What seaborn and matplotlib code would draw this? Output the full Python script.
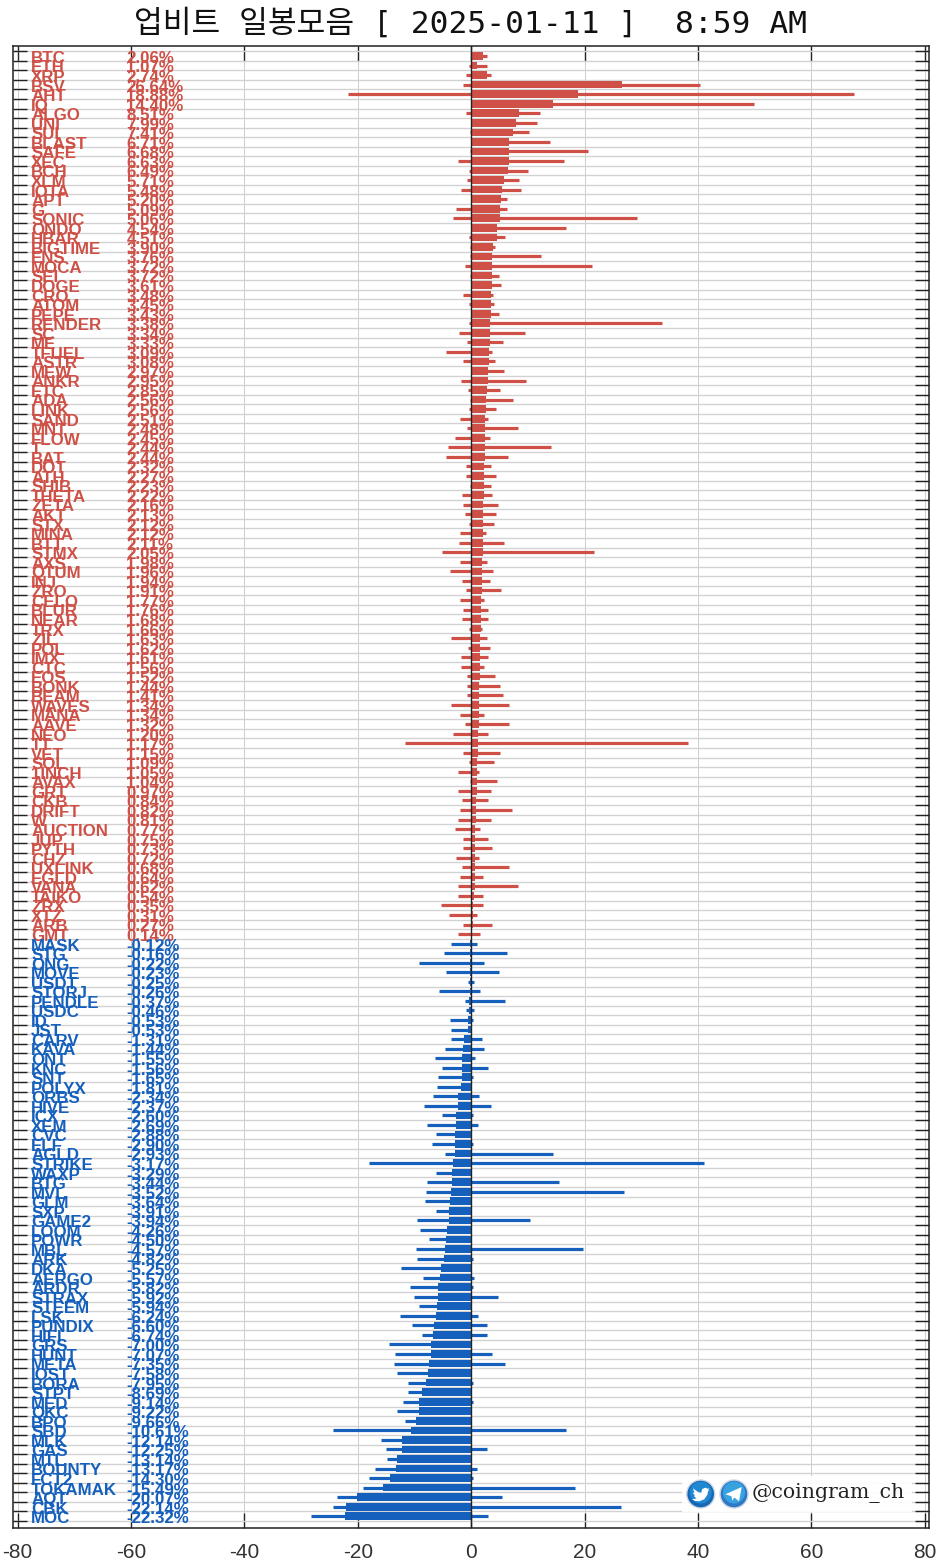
import pandas as pd
import matplotlib.pyplot as plt
from matplotlib.patches import Circle, Polygon, Rectangle
import seaborn as sns

names = ["BTC", "ETH", "XRP", "BSV", "AHT", "IQ", "ALGO", "UNI", "SUI", "BLAST", "SAFE", "XEC", "BCH", "XLM",
         "IOTA", "APT", "G", "SONIC", "ONDO", "HBAR", "BIGTIME", "ENS", "MOCA", "SEI", "DOGE", "CRO", "ATOM",
         "PEPE", "RENDER", "SC", "ME", "TFUEL", "ASTR", "MEW", "ANKR", "ETC", "ADA", "LINK", "SAND", "MNT",
         "FLOW", "T", "BAT", "DOT", "ATH", "SHIB", "THETA", "ZETA", "AKT", "STX", "MINA", "BTT", "STMX", "AXS",
         "QTUM", "INJ", "ZRO", "CELO", "BLUR", "NEAR", "TRX", "ZIL", "POL", "IMX", "CTC", "EOS", "BONK", "BEAM",
         "WAVES", "MANA", "AAVE", "NEO", "TT", "VET", "SOL", "1INCH", "AVAX", "GRT", "CKB", "DRIFT", "W",
         "AUCTION", "JUP", "PYTH", "CHZ", "UXLINK", "EGLD", "VANA", "TAIKO", "ZRX", "XTZ", "ARB", "GMT",
         "MASK", "STG", "ONG", "MOVE", "USDT", "STORJ", "PENDLE", "USDC", "ID", "JST", "CARV", "KAVA", "ONT",
         "KNC", "SNT", "POLYX", "ORBS", "HIVE", "ICX", "XEM", "CVC", "ELF", "AGLD", "STRIKE", "WAXP", "BTG",
         "MVL", "GLM", "SXP", "GAME2", "LOOM", "POWR", "MBL", "ARK", "DKA", "AERGO", "ARDR", "STRAX", "STEEM",
         "LSK", "PUNDIX", "HIFI", "GRS", "HUNT", "META", "IOST", "BORA", "STPT", "MED", "QKC", "BPO", "SBD",
         "MLK", "GAS", "MTL", "BOUNTY", "FCT2", "TOKAMAK", "AQT", "CBK", "MOC"]

change = [2.06, 1.07, 2.74, 26.64, 18.88, 14.40, 8.51, 7.99, 7.41, 6.71, 6.68, 6.63, 6.49, 5.71,
          5.48, 5.20, 5.09, 5.06, 4.54, 4.51, 3.90, 3.76, 3.72, 3.72, 3.61, 3.48, 3.45,
          3.43, 3.38, 3.34, 3.33, 3.09, 3.08, 2.97, 2.95, 2.85, 2.56, 2.56, 2.51, 2.48,
          2.45, 2.44, 2.44, 2.32, 2.27, 2.23, 2.22, 2.16, 2.13, 2.12, 2.12, 2.11, 2.05, 1.98,
          1.96, 1.94, 1.91, 1.77, 1.76, 1.68, 1.66, 1.63, 1.62, 1.61, 1.56, 1.52, 1.44, 1.41,
          1.34, 1.34, 1.32, 1.20, 1.17, 1.15, 1.09, 1.05, 1.04, 0.97, 0.84, 0.82, 0.81,
          0.77, 0.75, 0.73, 0.72, 0.68, 0.64, 0.62, 0.54, 0.35, 0.31, 0.27, 0.14,
          -0.12, -0.16, -0.22, -0.23, -0.25, -0.26, -0.37, -0.46, -0.53, -0.53, -1.31, -1.44, -1.55,
          -1.56, -1.65, -1.81, -2.34, -2.37, -2.60, -2.69, -2.88, -2.90, -2.93, -3.17, -3.29, -3.44,
          -3.52, -3.64, -3.91, -3.94, -4.26, -4.50, -4.57, -4.82, -5.25, -5.57, -5.82, -5.92, -5.94,
          -6.24, -6.60, -6.74, -7.00, -7.07, -7.35, -7.58, -7.95, -8.69, -9.14, -9.22, -9.66, -10.61,
          -12.14, -12.25, -13.14, -13.17, -14.30, -15.49, -20.07, -22.14, -22.32]

day_low = [-0.1, -0.3, -0.95, -1.5, -21.7, 0, -0.95, -0.1, -0.15, -0.1, -0.2, -2.35, -0.4, -0.7,
           -1.8, 0, -2.75, -3.2, 0, -0.4, -0.15, -0.15, -1.1, -0.15, 0, -1.5, -0.4,
           0, -0.4, -2.2, -0.7, -4.5, -1.5, 0, -1.8, -0.6, -0.15, -0.4, -2.05, -0.8,
           -2.9, -4.1, -4.35, -0.95, -0.95, -0.15, -1.65, -1.5, -1.1, -0.4, -2.05, -2.2, -5.2, -2.05,
           -3.8, -1.65, -0.95, -2.05, -1.35, -1.65, -0.4, -3.6, -0.6, -1.8, -1.8, -0.8, -0.8, -0.8,
           -3.6, -2.05, -1.1, -3.2, -11.75, -1.35, -0.4, -2.35, -0.25, -2.35, -1.65, -2.05, -2.35,
           -2.9, -1.5, -1.35, -2.75, -1.65, -2.05, -2.35, -2.35, -5.35, -3.95, -1.5, -2.35,
           -3.6, -4.8, -9.2, -4.5, -0.6, -5.75, -1.1, -0.95, -3.8, -3.6, -3.6, -4.65, -6.45,
           -5.2, -5.9, -6.05, -6.75, -8.35, -5.2, -7.85, -6.2, -6.95, -4.65, -18.05, -6.2, -7.85,
           -8.0, -8.2, -6.2, -9.6, -9.05, -7.5, -9.75, -9.6, -12.45, -8.5, -10.85, -10.15, -9.2,
           -12.6, -10.45, -8.75, -14.55, -13.5, -13.6, -13.1, -11.2, -11.2, -12.0, -13.0, -11.7, -24.4,
           -15.9, -15.1, -14.9, -17.0, -18.0, -19.1, -23.7, -24.3, -28.3]

day_high = [2.85, 2.85, 3.55, 40.3, 67.5, 49.9, 12.1, 11.6, 10.15, 13.9, 20.6, 16.3, 10.0, 8.4,
            8.75, 6.3, 6.3, 29.2, 16.7, 5.9, 4.2, 12.3, 21.4, 4.9, 5.35, 3.8, 4.0,
            4.9, 33.6, 9.45, 5.6, 3.6, 4.2, 5.75, 9.75, 5.05, 7.4, 4.35, 3.05, 8.2,
            3.3, 14.0, 6.45, 3.45, 4.35, 3.45, 3.6, 4.7, 4.35, 4.0, 2.6, 5.75, 21.65, 2.75,
            3.8, 3.3, 5.35, 2.2, 3.05, 3.05, 1.9, 2.75, 3.3, 2.9, 2.35, 4.2, 5.05, 5.6,
            6.75, 2.2, 6.75, 3.05, 38.2, 5.05, 4.0, 1.35, 4.5, 3.45, 3.05, 7.15, 3.45,
            1.65, 3.05, 3.6, 1.35, 6.75, 2.05, 8.2, 2.05, 2.05, 0.95, 3.6, 1.5,
            0.95, 6.3, 2.2, 4.9, 0.45, 1.65, 6.05, 0.45, 0.3, 0, 1.9, 2.2, 0.6,
            2.9, 0.3, 0, 1.35, 3.45, 0.3, 1.2, 0, 0.3, 14.4, 41.0, 0, 15.45,
            26.95, 0, 0, 10.3, 0, 0, 19.7, 0.3, 0, 0.45, 0.3, 4.7, 0,
            1.2, 2.75, 2.75, 0, 3.6, 5.9, 0, 0.4, 0, 0.3, 0, 0, 16.7,
            0, 2.75, 0, 0.95, 0.3, 18.25, 5.4, 26.4, 2.95]

xtick_vals = [-80, -60, -40, -20, 0, 20, 40, 60, 80]

UP_COLOR = "#CE5046"
DOWN_COLOR = "#1560BD"
W, H = 938, 1563

sns.set_theme(style="white")
plt.rcParams['font.family'] = ['Liberation Sans', 'DejaVu Sans']

df = pd.DataFrame({"name": names, "change": change, "low": day_low, "high": day_high})
df["direction"] = ["up" if v > 0 else "down" for v in df["change"]]
df["row"] = range(len(df))

fig = plt.figure(figsize=(W / 100, H / 100), dpi=100, facecolor="white")
ax = fig.add_axes([12.7 / W, 1 - 1528 / H, (929 - 12.7) / W, (1528 - 46) / H])

# thick bar = today's change
sns.barplot(data=df, x="change", y="name", hue="direction", dodge=False, width=0.8, saturation=1,
            palette={"up": UP_COLOR, "down": DOWN_COLOR}, legend=False, ax=ax, zorder=3,
            edgecolor="none", linewidth=0)

# thin line = low to high of the day
ax.hlines(df["row"], df["low"], df["high"], colors=[UP_COLOR if d == "up" else DOWN_COLOR for d in df["direction"]],
          linewidth=2.3, capstyle="butt", zorder=3)
ax.axvline(0, color="#222222", lw=1.0, zorder=4)

for _, r in df.iterrows():
    color = UP_COLOR if r["direction"] == "up" else DOWN_COLOR
    ax.text(-77.6, r["row"] + 0.25, r["name"], color=color, fontsize=12.2, fontweight="bold", va="center", zorder=5)
    ax.text(-60.8, r["row"] + 0.25, f"{r['change']:.2f}%", color=color, fontsize=12.2, fontweight="bold",
            va="center", zorder=5)

ax.set_xlim(-80.85, 80.75)
ax.set_ylim(154.23, -1.05)
ax.set_xticks(xtick_vals)
ax.set_xticklabels([str(v) for v in xtick_vals], fontsize=15, color="#333333")
ax.set_yticks([i + 0.5 for i in range(-1, len(df))])
ax.set_yticklabels([])
ax.set_xlabel("")
ax.set_ylabel("")

ax.set_axisbelow(True)
ax.grid(True, axis="y", color="#d2d2d2", lw=1.0, zorder=0)
ax.grid(True, axis="x", color="#cccccc", lw=0.7, zorder=0)
ax.tick_params(axis="x", direction="in", length=11, width=1.0, color="#222222", top=True, bottom=True, pad=11)
ax.tick_params(axis="y", direction="in", length=10, width=1.0, color="#222222", left=True, right=True)
for s in ax.spines.values():
    s.set_visible(True)
    s.set_color("#222222")
    s.set_linewidth(1.1)

# overlay in pixel coordinates for the title and the channel badge
ov = fig.add_axes([0, 0, 1, 1], zorder=10)
ov.set_xlim(0, W)
ov.set_ylim(H, 0)
ov.axis("off")

ov.text(471, 23, "업비트 일봉모음 [ 2025-01-11 ]  8:59 AM", ha="center", va="center", fontsize=22.5,
        color="#111111", family=["DejaVu Sans Mono", "Noto Sans CJK KR"])

ov.add_patch(Rectangle((682, 1476), 230, 36, facecolor="white", edgecolor="none", alpha=0.93))
ov.add_patch(Circle((700.7, 1494), 14, facecolor="#1668B4", edgecolor="#cfd8e4", lw=1))
ov.add_patch(Circle((700.7, 1492.5), 11, facecolor="#2088D2", edgecolor="none"))
ov.add_patch(Circle((734, 1494), 14, facecolor="#2F78C8", edgecolor="#cfd8e4", lw=1))
ov.add_patch(Circle((734, 1492.5), 11, facecolor="#38A2E0", edgecolor="none"))

bird = [(-0.62, 0.36), (-0.30, 0.33), (-0.50, 0.12), (-0.40, 0.12), (-0.58, -0.10), (-0.45, -0.08), (-0.55, -0.40),
        (-0.15, -0.12), (0.05, -0.10), (0.10, -0.35), (0.32, -0.45), (0.48, -0.38), (0.62, -0.42), (0.52, -0.28),
        (0.62, -0.30), (0.52, -0.18), (0.48, 0.05), (0.25, 0.38), (-0.10, 0.52), (-0.40, 0.50)]
plane = [(-0.62, 0.02), (0.55, -0.50), (0.36, 0.52), (0.02, 0.25), (-0.12, 0.48), (-0.18, 0.16)]
ov.add_patch(Polygon([(700.7 + 14 * x, 1494 + 14 * y) for x, y in bird], facecolor="white", edgecolor="none"))
ov.add_patch(Polygon([(734 + 14 * x, 1494 + 14 * y) for x, y in plane], facecolor="white", edgecolor="none"))

ov.text(752, 1493, "@coingram_ch", fontsize=14.7, color="#222222", va="center", family="DejaVu Serif")

fig.savefig("out.png", dpi=100)
